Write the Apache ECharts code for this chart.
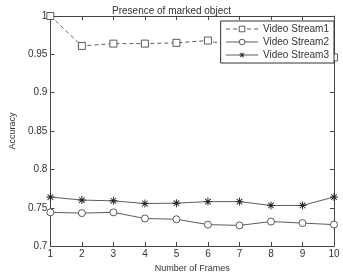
<!DOCTYPE html>
<html><head><meta charset="utf-8">
<script src="https://cdn.jsdelivr.net/npm/echarts@6/dist/echarts.min.js"></script>
<style>html,body{margin:0;padding:0;background:#fff}#c{width:343px;height:278px}</style>
</head><body><div id="c"></div>
<script>
const frames = [1,2,3,4,5,6,7,8,9,10];
const stream1 = [1.0,0.961,0.964,0.964,0.965,0.968,0.958,0.954,0.950,0.946];
const stream2 = [0.744,0.743,0.744,0.736,0.735,0.728,0.727,0.732,0.730,0.728];
const stream3 = [0.764,0.760,0.759,0.7555,0.756,0.758,0.758,0.753,0.753,0.764];
const seriesNames = ['Video Stream1','Video Stream2','Video Stream3'];
const font = 'Liberation Sans, Arial, sans-serif';
const axisCol = '#444';
const star = 'path://M-0.6,-5L0.6,-5L0.6,5L-0.6,5Z M-5,-0.6L5,-0.6L5,0.6L-5,0.6Z M-3.9,-3.1L-3.1,-3.9L3.9,3.1L3.1,3.9Z M3.1,-3.9L3.9,-3.1L-3.1,3.9L-3.9,3.1Z';
const pair = d => d.map((v,i)=>[frames[i], v]);
const mkX = () => ({type:'value',min:1,max:10,interval:1,
  axisLine:{lineStyle:{color:axisCol,width:1}},
  axisTick:{inside:true,length:4,lineStyle:{color:axisCol}},
  splitLine:{show:false}});
const mkY = () => ({type:'value',min:0.7,max:1,interval:0.05,
  axisLine:{lineStyle:{color:axisCol,width:1}},
  axisTick:{inside:true,length:4,lineStyle:{color:axisCol}},
  splitLine:{show:false}});
const chart = echarts.init(document.getElementById('c'));
chart.setOption({
  backgroundColor:'#fff',
  animation:false,
  title:{text:'Presence of marked object',left:'center',top:1,
    textStyle:{fontFamily:font,fontSize:10,fontWeight:'normal',color:'#333'}},
  grid:{left:33,right:9,top:16,bottom:22},
  legend:{right:9,top:21,orient:'vertical',itemGap:3,itemWidth:32,itemHeight:7,
    backgroundColor:'#fff',borderColor:'#333',borderWidth:1,padding:[3,5,3,5],
    itemStyle:{borderWidth:0.8},lineStyle:{width:0.8},
    textStyle:{fontFamily:font,fontSize:10,color:'#333'},data:seriesNames},
  xAxis:[Object.assign(mkX(),{position:'bottom',name:'Number of Frames',nameLocation:'middle',nameGap:11,
      nameTextStyle:{fontFamily:font,fontSize:9,color:'#333'},
      axisLabel:{fontFamily:font,fontSize:10,color:'#333',margin:3}}),
    Object.assign(mkX(),{position:'top',axisLabel:{show:false}})],
  yAxis:[Object.assign(mkY(),{position:'left',name:'Accuracy',nameLocation:'middle',nameGap:22,
      nameTextStyle:{fontFamily:font,fontSize:9,color:'#333'},
      axisLabel:{fontFamily:font,fontSize:10,color:'#333',margin:3,
        formatter:v=>String(parseFloat(v.toFixed(2)))}}),
    Object.assign(mkY(),{position:'right',axisLabel:{show:false}})],
  series:[
    {name:seriesNames[0],type:'line',data:pair(stream1),symbol:'rect',symbolSize:7,
     lineStyle:{color:'#333',width:0.8,type:[4,3]},itemStyle:{color:'#fff',borderColor:'#333',borderWidth:0.8,borderType:'solid'}},
    {name:seriesNames[1],type:'line',data:pair(stream2),symbol:'circle',symbolSize:7,
     lineStyle:{color:'#333',width:0.8,type:'solid'},itemStyle:{color:'#fff',borderColor:'#333',borderWidth:0.8,borderType:'solid'}},
    {name:seriesNames[2],type:'line',data:pair(stream3),symbol:star,symbolSize:8,
     lineStyle:{color:'#333',width:0.8,type:'solid'},itemStyle:{color:'#222',borderWidth:0}}
  ]
});
</script></body></html>
